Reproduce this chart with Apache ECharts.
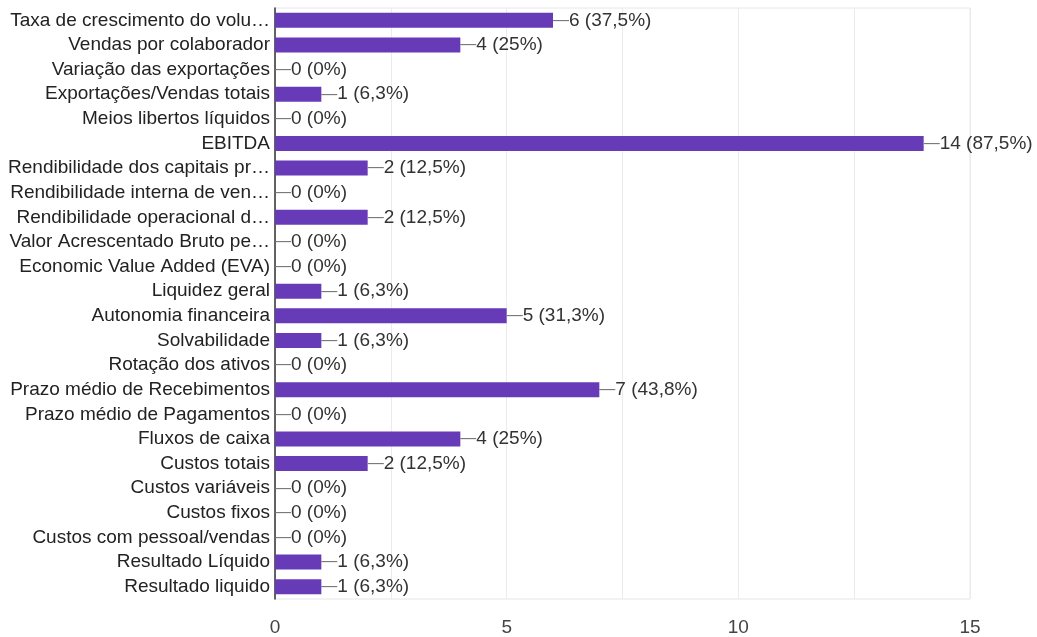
<!DOCTYPE html>
<html>
<head>
<meta charset="utf-8">
<script src="https://cdn.jsdelivr.net/npm/echarts@6/dist/echarts.min.js"></script>
<style>
html,body{margin:0;padding:0;background:#fff;}
#chart{width:1037px;height:637px;}
</style>
</head>
<body>
<div id="chart"></div>
<script>
const categories = [
  "Taxa de crescimento do volu…",
  "Vendas por colaborador",
  "Variação das exportações",
  "Exportações/Vendas totais",
  "Meios libertos líquidos",
  "EBITDA",
  "Rendibilidade dos capitais pr…",
  "Rendibilidade interna de ven…",
  "Rendibilidade operacional d…",
  "Valor Acrescentado Bruto pe…",
  "Economic Value Added (EVA)",
  "Liquidez geral",
  "Autonomia financeira",
  "Solvabilidade",
  "Rotação dos ativos",
  "Prazo médio de Recebimentos",
  "Prazo médio de Pagamentos",
  "Fluxos de caixa",
  "Custos totais",
  "Custos variáveis",
  "Custos fixos",
  "Custos com pessoal/vendas",
  "Resultado Líquido",
  "Resultado liquido"
];
const values = [6,4,0,1,0,14,2,0,2,0,0,1,5,1,0,7,0,4,2,0,0,0,1,1];
const percents = ["37,5%","25%","0%","6,3%","0%","87,5%","12,5%","0%","12,5%","0%","0%","6,3%","31,3%","6,3%","0%","43,8%","0%","25%","12,5%","0%","0%","0%","6,3%","6,3%"];
const xTicks = [0,5,10,15];

const chart = echarts.init(document.getElementById('chart'), null, {renderer:'canvas'});
const font = '"Liberation Sans", Arial, sans-serif';
chart.setOption({
  animation:false,
  grid:{left:275,right:67,top:8,bottom:30,show:true,borderColor:'#e6e6e6',borderWidth:1},
  xAxis:{
    type:'value',min:0,max:15,interval:2.5,
    axisLine:{show:false},axisTick:{show:false},
    splitLine:{show:true,lineStyle:{color:'#ebebeb',width:1}},
    axisLabel:{margin:19,fontSize:19,color:'#444',fontFamily:font,
      formatter:v=> xTicks.indexOf(v)>=0 ? String(v) : ''}
  },
  yAxis:{
    type:'category',data:categories,inverse:true,
    axisLine:{show:true,lineStyle:{color:'#333',width:1.5}},
    axisTick:{show:false},
    axisLabel:{interval:0,margin:5,fontSize:19,color:'#222',fontFamily:font}
  },
  series:[{
    type:'bar',data:values,barWidth:15,
    itemStyle:{color:'#673ab7'},
    label:{show:true,position:'right',distance:0,fontSize:19,fontFamily:font,
      formatter:p=>'{d|—}{t|'+p.value+' ('+percents[p.dataIndex]+')}',
      rich:{d:{color:'#777',fontSize:16,fontFamily:font},t:{color:'#333',fontSize:19,fontFamily:font}}}
  }]
});
</script>
</body>
</html>
